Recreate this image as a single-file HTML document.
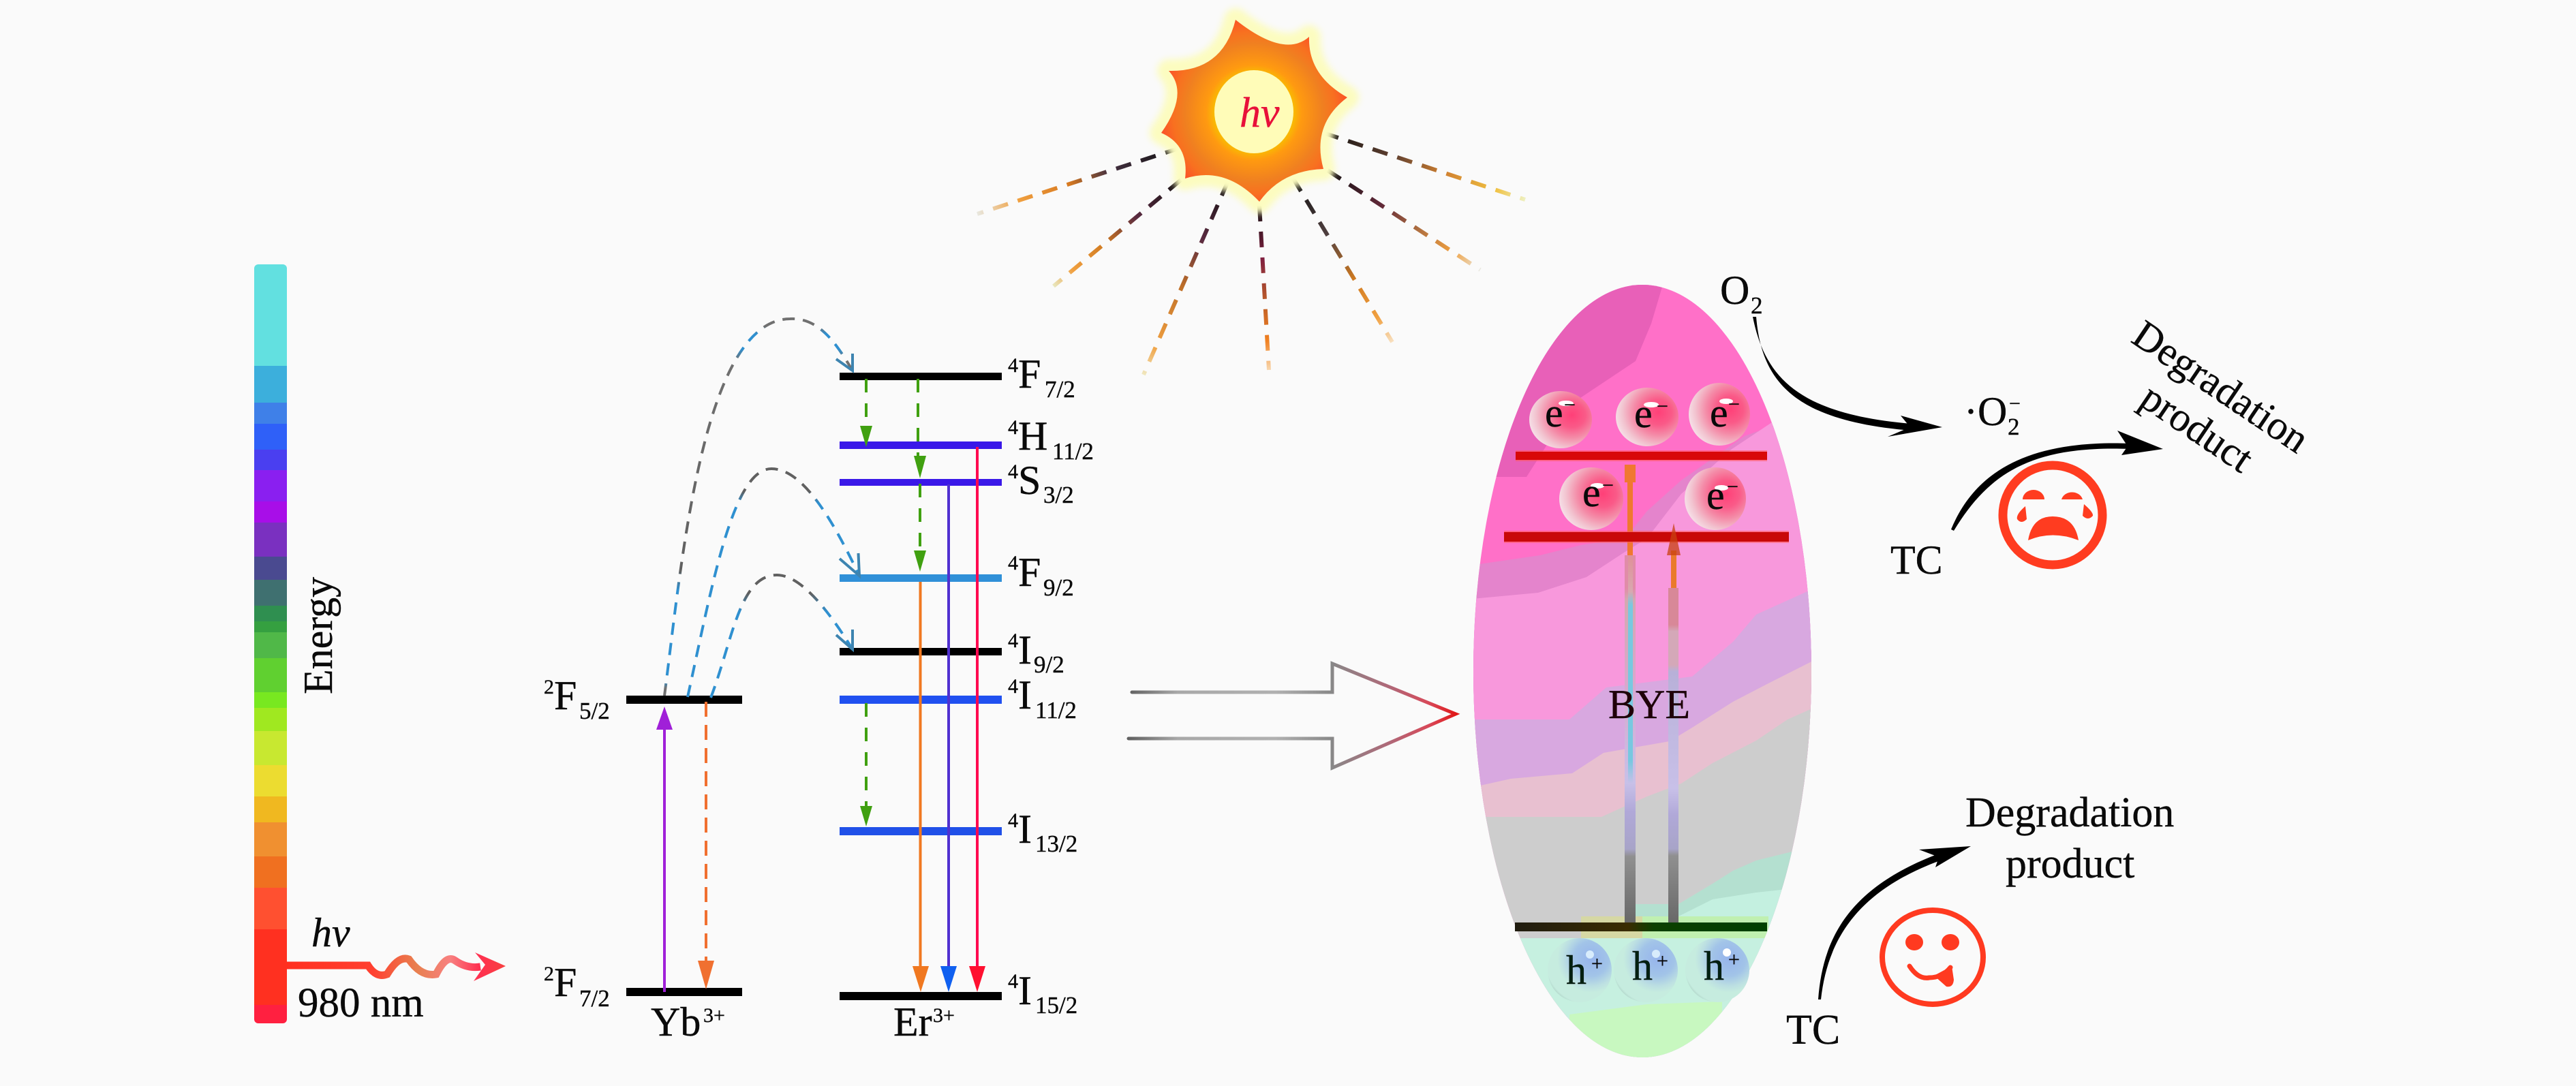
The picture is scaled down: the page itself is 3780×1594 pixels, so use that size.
<!DOCTYPE html>
<html><head><meta charset="utf-8"><style>
html,body{margin:0;padding:0;background:#fafafa;width:3780px;height:1594px;overflow:hidden}
svg{display:block}
text{font-family:"Liberation Serif",serif;fill:#0a0a0a;stroke:#0a0a0a;stroke-width:.4}
.b{font-size:60px}.s{font-size:35px}.u{font-size:30px}.i{font-style:italic}
</style></head><body>
<svg width="3780" height="1594" viewBox="0 0 3780 1594" xmlns="http://www.w3.org/2000/svg">
<defs>
<clipPath id="barc"><rect x="373" y="388" width="48" height="1114" rx="6"/></clipPath>
<clipPath id="ell"><ellipse cx="2410" cy="985" rx="248" ry="567"/></clipPath>
<linearGradient id="wave" gradientUnits="userSpaceOnUse" x1="417" y1="0" x2="742" y2="0"><stop offset="0" stop-color="#ff3020"/><stop offset=".4" stop-color="#ff4030"/><stop offset=".6" stop-color="#e88050"/><stop offset=".75" stop-color="#f88080"/><stop offset=".88" stop-color="#ff3050"/><stop offset="1" stop-color="#f84040"/></linearGradient>
<linearGradient id="big" gradientUnits="userSpaceOnUse" x1="1656" y1="0" x2="2136" y2="0"><stop offset="0" stop-color="#606060"/><stop offset=".15" stop-color="#a8a8a8"/><stop offset=".45" stop-color="#b0b0b0"/><stop offset=".62" stop-color="#888"/><stop offset=".8" stop-color="#b06878"/><stop offset=".92" stop-color="#d84858"/><stop offset="1" stop-color="#e01818"/></linearGradient>
<radialGradient id="sun" gradientUnits="userSpaceOnUse" cx="1840" cy="165" r="140"><stop offset=".4" stop-color="#f8c000"/><stop offset=".5" stop-color="#ff9a10"/><stop offset=".72" stop-color="#f08020"/><stop offset=".85" stop-color="#f87020"/><stop offset="1" stop-color="#fb5028"/></radialGradient>
<filter id="bl" x="-20%" y="-20%" width="140%" height="140%"><feGaussianBlur stdDeviation="5"/></filter>
<radialGradient id="eg" cx=".68" cy=".42" r=".72"><stop offset="0" stop-color="#ff4078"/><stop offset=".3" stop-color="#fa5a88"/><stop offset=".55" stop-color="#f48ca8"/><stop offset=".8" stop-color="#f2c4d0"/><stop offset=".97" stop-color="#f6e0e8"/><stop offset="1" stop-color="#ffc4e4"/></radialGradient>
<radialGradient id="hg" cx=".68" cy=".32" r=".78"><stop offset="0" stop-color="#96b4ec"/><stop offset=".35" stop-color="#a2c4e8"/><stop offset=".55" stop-color="#bcdfe2"/><stop offset=".68" stop-color="#c6ecdf"/><stop offset=".92" stop-color="#c6ecdf"/><stop offset="1" stop-color="#a8ccc0"/></radialGradient>
<linearGradient id="a1w" gradientUnits="userSpaceOnUse" x1="0" y1="815" x2="0" y2="1354"><stop offset="0" stop-color="#e08ca8"/><stop offset=".09" stop-color="#e08ca8"/><stop offset=".12" stop-color="#d4a8b0"/><stop offset=".35" stop-color="#d8a8cc"/><stop offset=".62" stop-color="#c8c0e8"/><stop offset=".7" stop-color="#b0a8d8"/><stop offset=".8" stop-color="#a8a4c8"/><stop offset=".82" stop-color="#909090"/><stop offset="1" stop-color="#686868"/></linearGradient>
<linearGradient id="a1n" gradientUnits="userSpaceOnUse" x1="0" y1="815" x2="0" y2="1150"><stop offset="0" stop-color="#e09098"/><stop offset=".16" stop-color="#d8a8b0"/><stop offset=".22" stop-color="#78c8e0"/><stop offset=".9" stop-color="#78c8e0"/><stop offset="1" stop-color="#c8c0e8"/></linearGradient>
<linearGradient id="a2w" gradientUnits="userSpaceOnUse" x1="0" y1="863" x2="0" y2="1354"><stop offset="0" stop-color="#d88898"/><stop offset=".11" stop-color="#d88898"/><stop offset=".13" stop-color="#d4a8b8"/><stop offset=".23" stop-color="#d4a8b8"/><stop offset=".25" stop-color="#b8b0d8"/><stop offset=".6" stop-color="#c8c0e8"/><stop offset=".68" stop-color="#b0a8d8"/><stop offset=".78" stop-color="#a8a4c8"/><stop offset=".8" stop-color="#909090"/><stop offset="1" stop-color="#686868"/></linearGradient>
<linearGradient id="g1" gradientUnits="userSpaceOnUse" x1="0" y1="468" x2="0" y2="1021"><stop offset="0" stop-color="#707070"/><stop offset=".02" stop-color="#707070"/><stop offset=".04" stop-color="#2f90d0"/><stop offset=".08" stop-color="#2f90d0"/><stop offset=".11" stop-color="#707070"/><stop offset=".67" stop-color="#606060"/><stop offset=".72" stop-color="#2f90d0"/><stop offset=".96" stop-color="#2f90d0"/><stop offset=".98" stop-color="#707070"/></linearGradient>
<linearGradient id="g2" gradientUnits="userSpaceOnUse" x1="0" y1="688" x2="0" y2="1023"><stop offset="0" stop-color="#606060"/><stop offset=".1" stop-color="#606060"/><stop offset=".15" stop-color="#2f90d0"/><stop offset="1" stop-color="#2f90d0"/></linearGradient>
<linearGradient id="g3" gradientUnits="userSpaceOnUse" x1="0" y1="844" x2="0" y2="1024"><stop offset="0" stop-color="#606060"/><stop offset=".15" stop-color="#606060"/><stop offset=".3" stop-color="#2f90d0"/><stop offset="1" stop-color="#2f90d0"/></linearGradient>
<linearGradient id="r1" gradientUnits="userSpaceOnUse" x1="1732" y1="217" x2="1434" y2="314"><stop offset="0" stop-color="#111"/><stop offset=".35" stop-color="#443040"/><stop offset=".55" stop-color="#d87a20"/><stop offset=".8" stop-color="#f0a040"/><stop offset="1" stop-color="#e8e8e0"/></linearGradient>
<linearGradient id="r2" gradientUnits="userSpaceOnUse" x1="1733" y1="264" x2="1546" y2="420"><stop offset="0" stop-color="#111"/><stop offset=".35" stop-color="#5a2a40"/><stop offset=".6" stop-color="#d07a20"/><stop offset=".85" stop-color="#f0a040"/><stop offset="1" stop-color="#e8e8c0"/></linearGradient>
<linearGradient id="r3" gradientUnits="userSpaceOnUse" x1="1802" y1="266" x2="1678" y2="550"><stop offset="0" stop-color="#111"/><stop offset=".3" stop-color="#5a2a40"/><stop offset=".55" stop-color="#c07028"/><stop offset=".85" stop-color="#f0a040"/><stop offset="1" stop-color="#f0e8c0"/></linearGradient>
<linearGradient id="r4" gradientUnits="userSpaceOnUse" x1="1848" y1="302" x2="1862" y2="543"><stop offset="0" stop-color="#111"/><stop offset=".32" stop-color="#802040"/><stop offset=".6" stop-color="#c06028"/><stop offset=".82" stop-color="#f08020"/><stop offset="1" stop-color="#f8d8b0"/></linearGradient>
<linearGradient id="r5" gradientUnits="userSpaceOnUse" x1="1897" y1="261" x2="2043" y2="502"><stop offset="0" stop-color="#111"/><stop offset=".35" stop-color="#504040"/><stop offset=".62" stop-color="#d07a20"/><stop offset=".85" stop-color="#f0a040"/><stop offset="1" stop-color="#f8e0c0"/></linearGradient>
<linearGradient id="r6" gradientUnits="userSpaceOnUse" x1="1948" y1="250" x2="2172" y2="396"><stop offset="0" stop-color="#111"/><stop offset=".35" stop-color="#602838"/><stop offset=".6" stop-color="#b07040"/><stop offset=".82" stop-color="#f0a040"/><stop offset="1" stop-color="#e8e8e0"/></linearGradient>
<linearGradient id="r7" gradientUnits="userSpaceOnUse" x1="1942" y1="195" x2="2238" y2="293"><stop offset="0" stop-color="#111"/><stop offset=".35" stop-color="#604030"/><stop offset=".6" stop-color="#d08030"/><stop offset=".85" stop-color="#f0c040"/><stop offset="1" stop-color="#eef0c0"/></linearGradient>
<linearGradient id="hole" gradientUnits="userSpaceOnUse" x1="2223" y1="0" x2="2593" y2="0"><stop offset="0" stop-color="#201c10"/><stop offset=".45" stop-color="#3a2c00"/><stop offset=".55" stop-color="#0c4000"/><stop offset="1" stop-color="#004000"/></linearGradient>
</defs>

<!-- energy bar -->
<g clip-path="url(#barc)">
<rect x="373" y="388" width="48" height="149" fill="#62e0e0"/>
<rect x="373" y="537" width="48" height="54" fill="#3cafdc"/>
<rect x="373" y="591" width="48" height="31" fill="#3f80e8"/>
<rect x="373" y="622" width="48" height="38" fill="#2f60f8"/>
<rect x="373" y="660" width="48" height="30" fill="#4a3ff0"/>
<rect x="373" y="690" width="48" height="46" fill="#8a1ff0"/>
<rect x="373" y="736" width="48" height="31" fill="#a80ee8"/>
<rect x="373" y="767" width="48" height="50" fill="#7a30c0"/>
<rect x="373" y="817" width="48" height="34" fill="#4a4a90"/>
<rect x="373" y="851" width="48" height="38" fill="#3f7070"/>
<rect x="373" y="889" width="48" height="23" fill="#2f8f50"/>
<rect x="373" y="912" width="48" height="16" fill="#35a040"/>
<rect x="373" y="928" width="48" height="38" fill="#50b848"/>
<rect x="373" y="966" width="48" height="50" fill="#60d030"/>
<rect x="373" y="1016" width="48" height="23" fill="#78e820"/>
<rect x="373" y="1039" width="48" height="34" fill="#a0e820"/>
<rect x="373" y="1073" width="48" height="50" fill="#c8e830"/>
<rect x="373" y="1123" width="48" height="46" fill="#ecdc30"/>
<rect x="373" y="1169" width="48" height="38" fill="#f0b820"/>
<rect x="373" y="1207" width="48" height="50" fill="#f09030"/>
<rect x="373" y="1257" width="48" height="46" fill="#f07020"/>
<rect x="373" y="1303" width="48" height="61" fill="#ff5030"/>
<rect x="373" y="1364" width="48" height="111" fill="#ff3020"/>
<rect x="373" y="1475" width="48" height="27" fill="#ff2040"/>
</g>
<text class="b" transform="rotate(-90 487 1019)" x="487" y="1019">Energy</text>
<text class="b i" x="457" y="1389">hv</text>
<text class="b" x="437" y="1492" style="font-size:61px">980 nm</text>
<path d="M417 1417 L540 1417 Q552 1436 568 1430 Q585 1402 600 1408 Q618 1434 640 1430 Q655 1400 668 1410 Q685 1422 705 1419" fill="none" stroke="url(#wave)" stroke-width="11"/>
<path d="M742 1418 L697 1398 L712 1416 L695 1440 Z" fill="url(#wave)"/>

<!-- energy levels -->
<g fill="#000">
<rect x="919" y="1021" width="170" height="12"/>
<rect x="919" y="1450" width="170" height="12"/>
<rect x="1232" y="547" width="238" height="11"/>
<rect x="1232" y="951" width="238" height="11"/>
<rect x="1232" y="1456" width="238" height="12"/>
</g>
<rect x="1232" y="648" width="238" height="11" fill="#3a18e8"/>
<rect x="1232" y="703" width="238" height="10" fill="#3a18e8"/>
<rect x="1232" y="843" width="238" height="11" fill="#3090d8"/>
<rect x="1232" y="1021" width="238" height="12" fill="#2050f0"/>
<rect x="1232" y="1214" width="238" height="12" fill="#2050e8"/>

<!-- solid transitions -->
<g stroke-width="4" fill="none">
<path d="M975 1456V1070" stroke="#a020d8"/>
<path d="M1350.5 854V1420" stroke="#f07820"/>
<path d="M1392 711V1420" stroke="#5030d0"/>
<path d="M1434 656V1420" stroke="#ff0850"/>
</g>
<path d="M975 1037 L987 1071 L963 1071 Z" fill="#a020d8"/>
<path d="M1351 1456 L1339 1418 L1363 1418 Z" fill="#f07820"/>
<path d="M1392 1456 L1380 1418 L1404 1418 Z" fill="#1060f0"/>
<path d="M1434 1456 L1422 1418 L1446 1418 Z" fill="#ff1030"/>
<!-- dashed -->
<path d="M1036 1030V1412" stroke="#f07030" stroke-width="4" stroke-dasharray="22 12" fill="none"/>
<path d="M1036 1452 L1024 1410 L1048 1410 Z" fill="#f07030"/>
<g stroke="#40a010" stroke-width="4" stroke-dasharray="20 16" fill="none">
<path d="M1271 556V628"/>
<path d="M1347 556V672"/>
<path d="M1350 710V810"/>
<path d="M1271 1032V1186"/>
</g>
<g fill="#40a010">
<path d="M1271 656 L1262 625 L1280 625 Z"/>
<path d="M1350 702 L1341 669 L1359 669 Z"/>
<path d="M1350 839 L1341 808 L1359 808 Z"/>
<path d="M1271 1213 L1262 1183 L1280 1183 Z"/>
</g>
<!-- energy transfer curves -->
<g fill="none" stroke-width="4">
<path stroke="url(#g1)" stroke-dasharray="18 12" d="M975 1021 C1000 830 1030 470 1159 468 C1200 466 1225 500 1251 544"/>
<path stroke="url(#g2)" stroke-dasharray="18 12" d="M1009 1023 C1045 860 1075 688 1132 688 C1180 688 1225 770 1261 845"/>
<path stroke="url(#g3)" stroke-dasharray="18 12" d="M1043 1024 C1075 940 1085 844 1140 844 C1175 844 1215 895 1251 953"/>
<path stroke="#3d84b0" d="M1251 519 L1251 544 L1227 527"/>
<path stroke="#3d84b0" d="M1259.5 812 L1261 845 L1232 820"/>
<path stroke="#3d84b0" d="M1251 924 L1251 953 L1227 932"/>
</g>

<!-- level labels -->
<text class="u" x="1479" y="546">4</text><text class="b" x="1494" y="569">F</text><text class="s" x="1533" y="583">7/2</text>
<text class="u" x="1479" y="637">4</text><text class="b" x="1494" y="660">H</text><text class="s" x="1544" y="674">11/2</text>
<text class="u" x="1479" y="702">4</text><text class="b" x="1494" y="725">S</text><text class="s" x="1531" y="738">3/2</text>
<text class="u" x="1479" y="836">4</text><text class="b" x="1494" y="860">F</text><text class="s" x="1531" y="874">9/2</text>
<text class="u" x="1479" y="950">4</text><text class="b" x="1494" y="974">I</text><text class="s" x="1517" y="987">9/2</text>
<text class="u" x="1479" y="1017">4</text><text class="b" x="1494" y="1040">I</text><text class="s" x="1519" y="1054">11/2</text>
<text class="u" x="1479" y="1214">4</text><text class="b" x="1494" y="1237">I</text><text class="s" x="1519" y="1250">13/2</text>
<text class="u" x="1479" y="1450">4</text><text class="b" x="1494" y="1474">I</text><text class="s" x="1519" y="1487">15/2</text>
<text class="u" x="798" y="1018">2</text><text class="b" x="813" y="1041">F</text><text class="s" x="850" y="1055">5/2</text>
<text class="u" x="798" y="1439">2</text><text class="b" x="813" y="1462">F</text><text class="s" x="850" y="1477">7/2</text>
<text class="b" x="955" y="1520">Yb</text><text class="u" x="1032" y="1500">3+</text>
<text class="b" x="1311" y="1520">Er</text><text class="u" x="1369" y="1500">3+</text>

<!-- sun rays -->
<g fill="none" stroke-width="6" stroke-dasharray="23 15">
<path d="M1732 217L1434 314" stroke="url(#r1)"/>
<path d="M1733 264L1546 420" stroke="url(#r2)"/>
<path d="M1802 266L1678 550" stroke="url(#r3)"/>
<path d="M1848 302L1862 543" stroke="url(#r4)"/>
<path d="M1897 261L2043 502" stroke="url(#r5)"/>
<path d="M1948 250L2172 396" stroke="url(#r6)"/>
<path d="M1942 195L2238 293" stroke="url(#r7)"/>
</g>
<!-- sun -->
<path d="M1813 29 Q1885 86 1921 54 Q1919 110 1977 143 Q1924 183 1942 248 Q1881 250 1848 296 Q1798 243 1739 262 Q1745 213 1704 195 Q1745 137 1715 104 Q1794 106 1813 29Z" fill="#fcfcc0" stroke="#fcfcc0" stroke-width="34" stroke-linejoin="round" filter="url(#bl)"/>
<path d="M1813 29 Q1885 86 1921 54 Q1919 110 1977 143 Q1924 183 1942 248 Q1881 250 1848 296 Q1798 243 1739 262 Q1745 213 1704 195 Q1745 137 1715 104 Q1794 106 1813 29Z" fill="url(#sun)"/>
<ellipse cx="1840" cy="164" rx="58" ry="61" fill="#fffcb8"/>
<text class="b i" x="1819" y="186" style="fill:#e8103a;stroke:#e8103a;font-size:62px">hv</text>

<!-- big arrow -->
<path d="M1661 1016H1955V974L2136 1048L1955 1127V1084H1656" fill="none" stroke="url(#big)" stroke-width="5" stroke-linecap="round"/>

<!-- BYE ellipse -->
<g clip-path="url(#ell)">
<rect x="2150" y="410" width="520" height="1150" fill="#ff70c8"/>
<path d="M2440 410 L2440 418 L2423 475 L2400 530 L2310 590 L2240 700 L2150 700 L2150 410Z" fill="#e860b8"/>
<path d="M2150 831 L2260 815 L2320 800 L2385 790 L2417 750 L2467 705 L2560 640 L2670 600 L2670 1200 L2150 1200Z" fill="#e484cc"/>
<path d="M2150 880 L2257 870 L2328 847 L2383 811 L2417 790 L2467 725 L2540 660 L2600 620 L2670 600 L2670 1300 L2150 1300Z" fill="#f898dc"/>
<path d="M2150 1056 L2303 1056 L2357 1009 L2483 993 L2543 942 L2577 902 L2670 860 L2670 1300 L2150 1300Z" fill="#d8a8e0"/>
<path d="M2150 1158 L2217 1143 L2307 1135 L2353 1105 L2450 1088 L2483 1068 L2543 1030 L2593 1004 L2670 965 L2670 1300 L2150 1300Z" fill="#e8c0d0"/>
<path d="M2150 1199 L2350 1199 L2383 1184 L2417 1169 L2467 1150 L2513 1120 L2577 1087 L2623 1056 L2670 1035 L2670 1560 L2150 1560Z" fill="#cdcdcd"/>
<path d="M2400 1327 L2463 1327 L2513 1297 L2543 1278 L2577 1263 L2670 1240 L2670 1560 L2400 1560Z" fill="#b4e0d0"/>
<path d="M2463 1345 L2513 1320 L2577 1310 L2670 1300 L2670 1560 L2463 1560Z" fill="#c4f0e0"/>
<rect x="2320" y="1345" width="90" height="32" fill="#d6d8a4"/>
<rect x="2410" y="1345" width="185" height="32" fill="#c0f0b0"/>
<rect x="2150" y="1377" width="520" height="190" fill="#c6f0e0"/>
<path d="M2303 1489 L2417 1474 L2527 1470 L2527 1560 L2303 1560Z" fill="#c8f8c0"/>
</g>

<!-- e spheres -->
<ellipse cx="2290" cy="616" rx="46" ry="42" fill="url(#eg)"/>
<ellipse cx="2417" cy="612" rx="46" ry="43" fill="url(#eg)"/>
<ellipse cx="2523" cy="608" rx="45" ry="46" fill="url(#eg)"/>
<ellipse cx="2335" cy="732" rx="47" ry="46" fill="url(#eg)"/>
<ellipse cx="2517" cy="732" rx="45" ry="46" fill="url(#eg)"/>
<g fill="#fff">
<ellipse cx="2298" cy="592" rx="11" ry="4"/>
<ellipse cx="2423" cy="594" rx="11" ry="4"/>
<ellipse cx="2533" cy="589" rx="10" ry="4"/>
<ellipse cx="2344" cy="713" rx="10" ry="4"/>
<ellipse cx="2526" cy="716" rx="10" ry="4"/>
</g>
<!-- band gap arrows -->
<rect x="2384" y="815" width="16" height="539" fill="url(#a1w)"/>
<rect x="2389" y="815" width="7" height="335" fill="url(#a1n)"/>
<rect x="2388" y="700" width="8" height="115" fill="#f07830"/>
<rect x="2384" y="682" width="16" height="26" fill="#f07830"/>
<rect x="2448" y="863" width="15" height="491" fill="url(#a2w)"/>
<rect x="2452" y="808" width="8" height="55" fill="#ea7a2c"/>
<rect x="2224" y="661" width="369" height="16" fill="#ff5858" opacity=".55"/>
<rect x="2207" y="779" width="418" height="18" fill="#ff5858" opacity=".55"/>
<rect x="2224" y="663" width="369" height="12" fill="#d80808"/>
<rect x="2207" y="781" width="418" height="14" fill="#c80808"/>
<path d="M2456 768 L2466 815 L2446 815Z" fill="#c84010" opacity=".75"/>
<rect x="2223" y="1354" width="370" height="13" fill="url(#hole)"/>

<!-- h spheres -->
<circle cx="2318" cy="1424" r="47" fill="url(#hg)"/>
<circle cx="2415" cy="1424" r="47" fill="url(#hg)"/>
<circle cx="2520" cy="1424" r="47" fill="url(#hg)"/>
<circle cx="2333" cy="1401" r="6" fill="#d8ecfc"/>
<circle cx="2430" cy="1400" r="6" fill="#d8ecfc"/>
<circle cx="2534" cy="1398" r="6" fill="#fff"/>

<!-- particle labels -->
<text class="b" x="2267" y="626">e</text><text class="u" x="2295" y="604">−</text>
<text class="b" x="2398" y="627">e</text><text class="u" x="2431" y="606">−</text>
<text class="b" x="2509" y="626">e</text><text class="u" x="2536" y="603">−</text>
<text class="b" x="2322" y="743">e</text><text class="u" x="2351" y="722">−</text>
<text class="b" x="2504" y="747">e</text><text class="u" x="2534" y="724">−</text>
<text class="b" x="2360" y="1054" style="fill:#200008">BYE</text>
<text class="b" x="2298" y="1444" style="fill:#002010">h</text><text class="u" x="2335" y="1424">+</text>
<text class="b" x="2395" y="1438" style="fill:#002010">h</text><text class="u" x="2431" y="1420">+</text>
<text class="b" x="2500" y="1438" style="fill:#002010">h</text><text class="u" x="2536" y="1418">+</text>

<!-- right side -->
<text class="b" x="2524" y="446">O</text><text class="s" x="2569" y="460">2</text>
<path d="M2572 465 C2590 555 2640 608 2805 622 L2805 632 C2632 618 2585 560 2577 465Z" fill="#000"/>
<path d="M2850 627 L2789 610 L2803 627 L2770 641Z" fill="#000"/>
<text class="b" x="2882" y="624">·O</text><text class="s" x="2946" y="638">2</text><text class="u" x="2948" y="602">−</text>
<text class="b" transform="rotate(34 3125 501)" x="3125" y="501">Degradation</text>
<text class="b" transform="rotate(34 3137 593)" x="3137" y="593">product</text>
<path d="M2863 777 C2895 700 2965 645 3125 651 L3125 659 C2975 653 2915 700 2867 779Z" fill="#000"/>
<path d="M3174 659 L3107 632 L3122 655 L3113 668Z" fill="#000"/>
<text class="b" x="2774" y="842">TC</text>

<!-- sad face -->
<circle cx="3012" cy="756" r="73" fill="none" stroke="#ff3c20" stroke-width="13"/>
<g fill="#ff3c20">
<path d="M2968 733 A16 14 0 0 1 3000 733Z"/>
<path d="M3025 733 A16 14 0 0 1 3056 733Z"/>
<path d="M2972 743 Q2958 755 2960 762 Q2966 770 2974 762Z"/>
<path d="M3058 740 Q3072 752 3071 757 Q3064 765 3056 757Z"/>
<path d="M2976 793 Q2982 758 3012 758 Q3044 758 3050 793 Q3012 778 2976 793Z"/>
</g>

<!-- lower reaction -->
<text class="b" x="2884" y="1213" style="font-size:62px">Degradation</text>
<text class="b" x="2943" y="1288" style="font-size:62px">product</text>
<text class="b" x="2621" y="1532" style="font-size:62px">TC</text>
<path d="M2668 1467 C2675 1370 2720 1300 2845 1253 L2850 1262 C2730 1305 2682 1375 2672 1467Z" fill="#000"/>
<path d="M2892 1242 L2816 1247 L2845 1258 L2840 1273Z" fill="#000"/>

<!-- happy face -->
<ellipse cx="2836" cy="1405" rx="74" ry="69" fill="none" stroke="#ff3a20" stroke-width="8"/>
<ellipse cx="2809" cy="1383" rx="13" ry="12" fill="#ff3a20"/>
<ellipse cx="2862" cy="1383" rx="13" ry="12" fill="#ff3a20"/>
<path d="M2802 1418 Q2815 1438 2831 1435 Q2850 1435 2862 1420" fill="none" stroke="#ff3a20" stroke-width="7" stroke-linecap="round"/>
<path d="M2838 1432 L2856 1448 Q2866 1450 2867 1438 L2864 1418 Z" fill="#ff3a20"/>
</svg>
</body></html>
